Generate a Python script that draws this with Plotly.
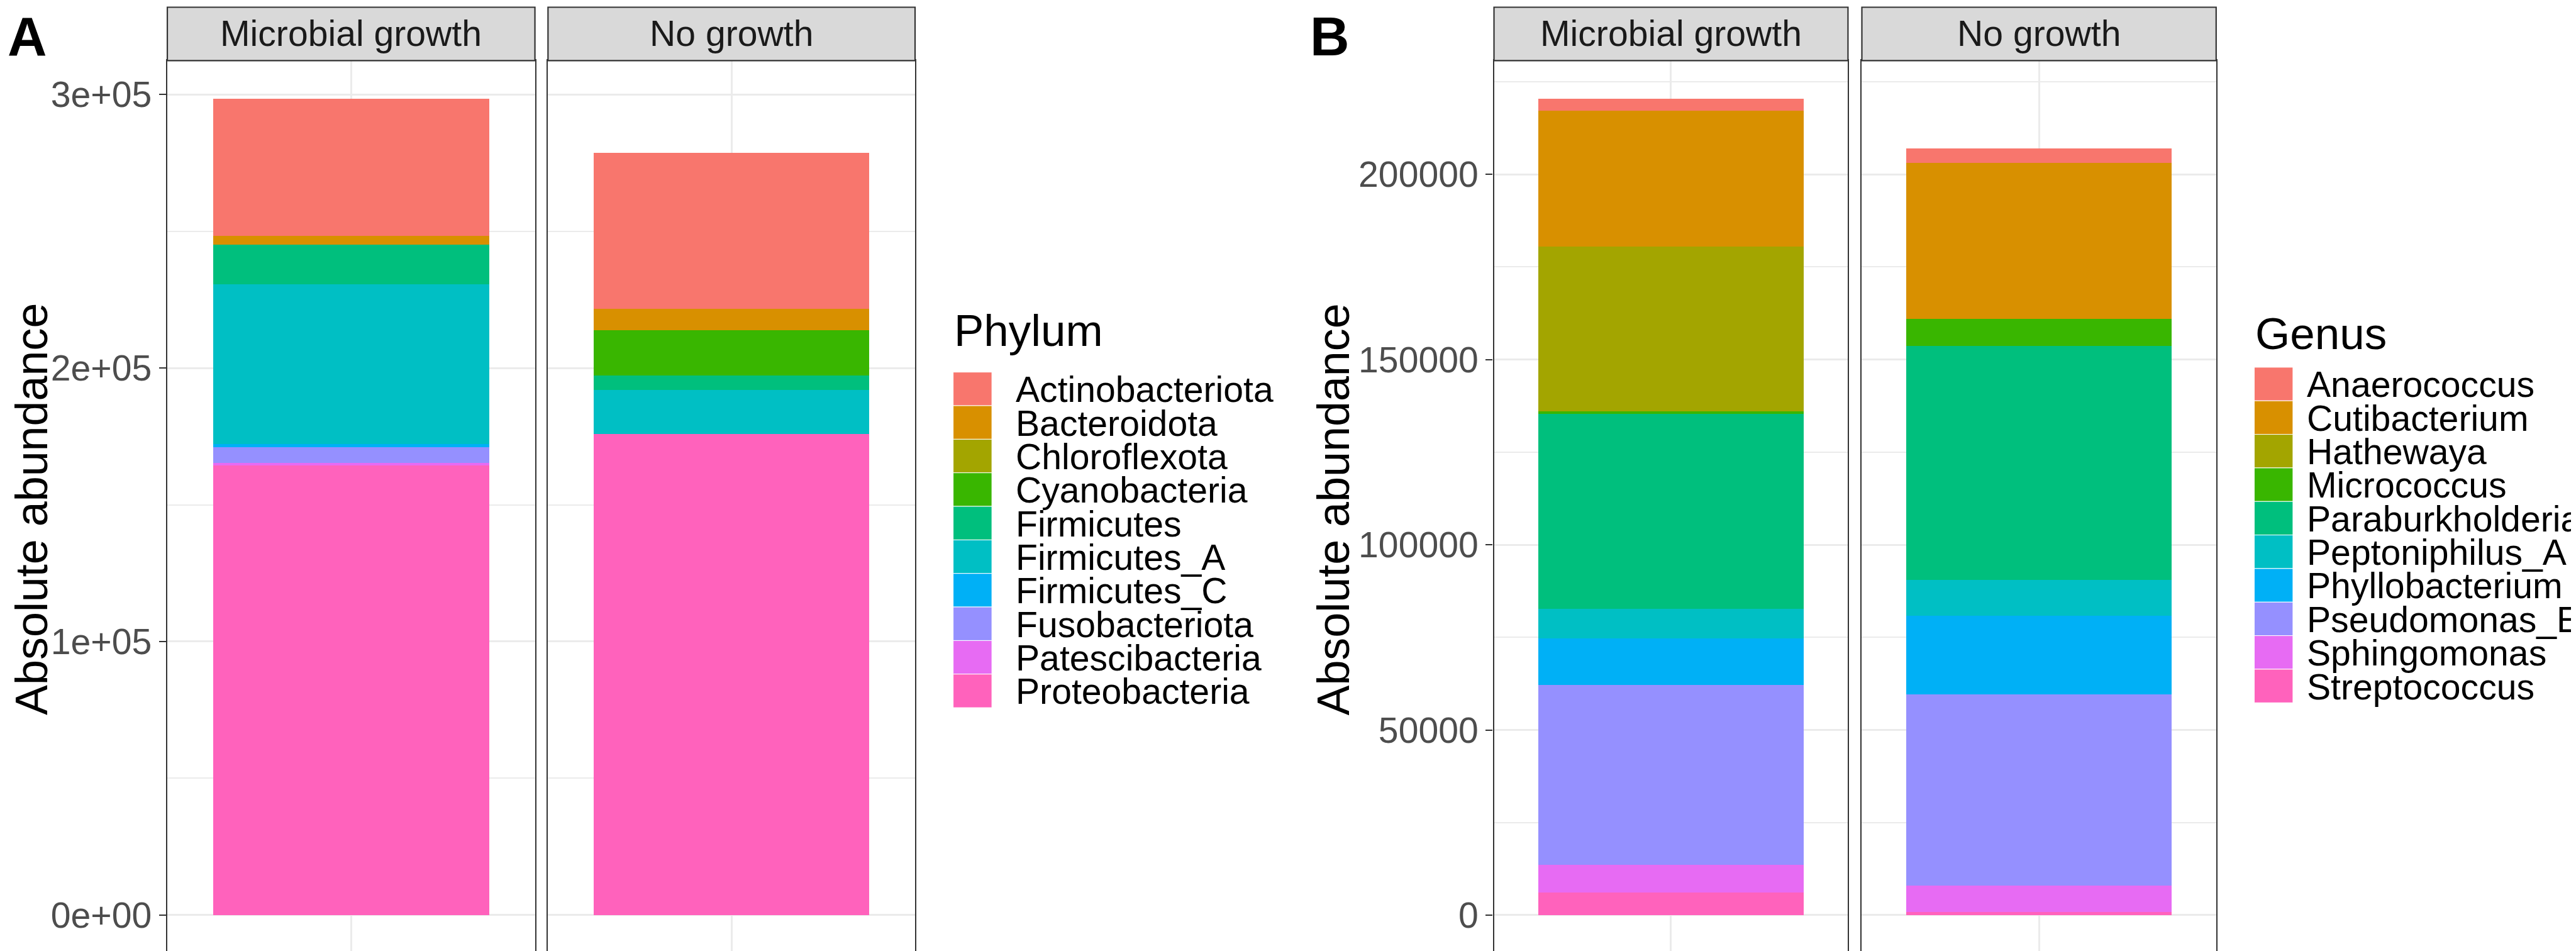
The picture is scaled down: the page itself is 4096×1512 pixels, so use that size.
import plotly.graph_objects as go

# ---------------- data ----------------
facets = ["Microbial growth", "No growth"]

phylum_names = ["Actinobacteriota", "Bacteroidota", "Chloroflexota", "Cyanobacteria",
                "Firmicutes", "Firmicutes_A", "Firmicutes_C", "Fusobacteriota",
                "Patescibacteria", "Proteobacteria"]
phylum_mg = [49950, 3420, 0, 0, 14390, 58510, 1150, 5710, 800, 164440]
phylum_ng = [57040, 7770, 0, 16560, 5380, 16000, 0, 0, 0, 175900]

genus_names = ["Anaerococcus", "Cutibacterium", "Hathewaya", "Micrococcus",
               "Paraburkholderia", "Peptoniphilus_A", "Phyllobacterium",
               "Pseudomonas_E", "Sphingomonas", "Streptococcus"]
genus_mg = [3200, 36720, 44500, 590, 52650, 8040, 12630, 48560, 7320, 6190]
genus_ng = [3970, 42040, 0, 7340, 63240, 9660, 21260, 51600, 7130, 820]

hue10 = ["#F8766D", "#D89000", "#A3A500", "#39B600", "#00BF7D",
         "#00BFC4", "#00B0F6", "#9590FF", "#E76BF3", "#FF62BC"]

a_tickvals = [0, 100000, 200000, 300000]
a_ticktext = ["0e+00", "1e+05", "2e+05", "3e+05"]
a_minor = [50000, 150000, 250000]
b_tickvals = [0, 50000, 100000, 150000, 200000]
b_ticktext = ["0", "50000", "100000", "150000", "200000"]
b_minor = [25000, 75000, 125000, 175000, 225000]

# ---------------- geometry helpers (reference pixel coords) ----------------
W, H = 4096, 1512
S = W / 4730.0
def fx(v):
    return v / 4730.0
def fy(v):
    return 1 - v / 1746.0

FONT = "Liberation Sans, Arial, Helvetica, sans-serif"
GRID = "#EBEBEB"
BORDER = "#333333"

panel_x = [(298, 973), (997, 1671), (2734, 3384), (3409.5, 4060)]
plot_top, plot_bot = 102, 1743
strip_top = 4

fig = go.Figure()

panels = [
    ("x", "y", facets[0], phylum_names, phylum_mg),
    ("x2", "y2", facets[1], phylum_names, phylum_ng),
    ("x3", "y3", facets[0], genus_names, genus_mg),
    ("x4", "y4", facets[1], genus_names, genus_ng),
]
for xa, ya, facet, names, vals in panels:
    items = list(zip(names, hue10, vals))
    for name, col, v in reversed(items):
        fig.add_trace(go.Bar(x=[facet], y=[v], name=name, width=0.9,
                             marker=dict(color=col, line=dict(width=0)),
                             xaxis=xa, yaxis=ya, showlegend=False,
                             hovertemplate=name + ": %{y}<extra></extra>"))

layout = dict(width=W, height=H, autosize=False, barmode="stack",
              margin=dict(l=0, r=0, t=0, b=0),
              paper_bgcolor="white", plot_bgcolor="white",
              font=dict(family=FONT), showlegend=False)

axis_ids = ["", "2", "3", "4"]
yranges = [[-14400, 312400], [-14400, 312400], [-10600, 230700], [-10600, 230700]]
for i, (x0, x1) in enumerate(panel_x):
    sid = axis_ids[i]
    layout["xaxis" + sid] = dict(
        domain=[fx(x0), fx(x1)], anchor="y" + sid, type="category",
        range=[-0.6, 0.6], showticklabels=False, ticks="",
        showgrid=True, gridcolor=GRID, gridwidth=3 * S,
        showline=True, mirror=True, linecolor=BORDER, linewidth=2.5 * S,
        zeroline=False, fixedrange=True)
    first = (i % 2 == 0)
    is_a = i < 2
    ydict = dict(
        domain=[fy(plot_bot), fy(plot_top)], anchor="x" + sid,
        range=yranges[i], tickmode="array",
        tickvals=a_tickvals if is_a else b_tickvals,
        ticktext=a_ticktext if is_a else b_ticktext,
        showticklabels=first, ticks="outside" if first else "",
        ticklen=13 * S, tickwidth=2.5 * S, tickcolor=BORDER,
        tickfont=dict(family=FONT, size=66 * S, color="#4D4D4D"),
        showgrid=True, gridcolor=GRID, gridwidth=3 * S,
        minor=dict(tickmode="array", tickvals=a_minor if is_a else b_minor,
                   showgrid=True, gridcolor=GRID, gridwidth=1.8 * S, ticks=""),
        zeroline=False, showline=True, mirror=True, linecolor=BORDER,
        linewidth=2.5 * S, fixedrange=True)
    layout["yaxis" + sid] = ydict

fig.update_layout(**layout)

shapes = []
annotations = []

# strips
for i, (x0, x1) in enumerate(panel_x):
    shapes.append(dict(type="rect", xref="paper", yref="paper",
                       x0=fx(x0), x1=fx(x1), y0=fy(plot_top), y1=fy(strip_top),
                       fillcolor="#D9D9D9", line=dict(color=BORDER, width=2.5 * S),
                       layer="above"))
    annotations.append(dict(text=facets[i % 2], xref="paper", yref="paper",
                            x=fx((x0 + x1) / 2), y=fy(52), xanchor="center",
                            yanchor="middle", showarrow=False,
                            font=dict(family=FONT, size=66 * S, color="#1A1A1A")))

# y-axis titles
for xl in (0, 2390):
    annotations.append(dict(text="Absolute abundance", xref="paper", yref="paper",
                            x=fx(xl), y=fy(926), xanchor="left", yanchor="middle",
                            textangle=-90, showarrow=False,
                            font=dict(family=FONT, size=83 * S, color="black")))

# panel tags
annotations.append(dict(text="<b>A</b>", xref="paper", yref="paper", x=fx(2), y=1,
                        xanchor="left", yanchor="top", showarrow=False,
                        font=dict(family=FONT, size=100 * S, color="black")))
annotations.append(dict(text="<b>B</b>", xref="paper", yref="paper", x=fx(2394), y=1,
                        xanchor="left", yanchor="top", showarrow=False,
                        font=dict(family=FONT, size=100 * S, color="black")))

# legends (drawn as keys + labels)
legends = [
    dict(title="Phylum", names=phylum_names, title_x=1740, title_y=598,
         kx0=1741, kx1=1812, ktop=674, tx=1854),
    dict(title="Genus", names=genus_names, title_x=4130, title_y=603,
         kx0=4130, kx1=4201, ktop=665, tx=4224),
]
row_h = 61.6
for lg in legends:
    annotations.append(dict(text=lg["title"], xref="paper", yref="paper",
                            x=fx(lg["title_x"]), y=fy(lg["title_y"]),
                            xanchor="left", yanchor="middle", showarrow=False,
                            font=dict(family=FONT, size=82 * S, color="black")))
    for k, (name, col) in enumerate(zip(lg["names"], hue10)):
        top = lg["ktop"] + k * row_h
        shapes.append(dict(type="rect", xref="paper", yref="paper",
                           x0=fx(lg["kx0"]), x1=fx(lg["kx1"]),
                           y0=fy(top + row_h), y1=fy(top),
                           fillcolor=col, line=dict(color="white", width=1)))
        annotations.append(dict(text=name, xref="paper", yref="paper",
                                x=fx(lg["tx"]), y=fy(top + row_h / 2 + 1),
                                xanchor="left", yanchor="middle", showarrow=False,
                                font=dict(family=FONT, size=66 * S, color="black")))

fig.update_layout(shapes=shapes, annotations=annotations)
fig.write_html("out.html")
